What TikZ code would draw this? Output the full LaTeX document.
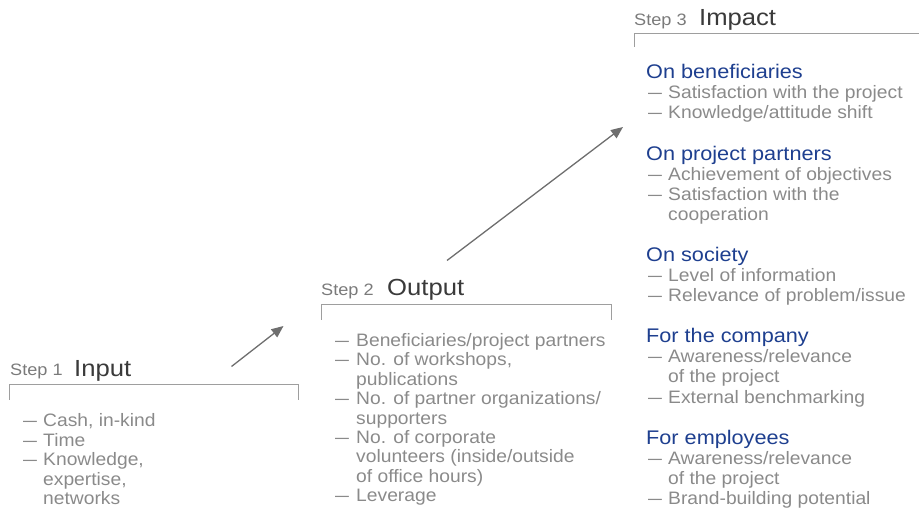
\documentclass[tikz,border=0pt]{standalone}
\usepackage{fontspec}
\usepackage{graphicx}
\setmainfont{Liberation Sans}[FakeStretch=1.1]
\newfontfamily\itemfont{Liberation Sans}[FakeStretch=1.07]
\usetikzlibrary{arrows.meta}
\definecolor{txtgrey}{HTML}{8A8A8A}
\definecolor{stepgrey}{HTML}{7A7A7A}
\definecolor{titlegrey}{HTML}{3A3A3A}
\definecolor{headblue}{HTML}{1E3F8F}
\definecolor{linegrey}{HTML}{9E9E9E}
\definecolor{arrowgrey}{HTML}{6E6E6E}
\newcommand{\itdash}{\scalebox{0.72}[1]{—}}
\tikzset{
  lbl/.style={inner sep=0pt, anchor=base west},
  itemtxt/.style={lbl, text=txtgrey, font=\itemfont\fontsize{18}{20}\selectfont},
  steplbl/.style={lbl, text=stepgrey, font=\fontsize{16.5}{18}\selectfont},
  steptitle/.style={lbl, text=titlegrey, font=\fontsize{23.3}{26}\selectfont},
  headtxt/.style={lbl, text=headblue, font=\fontsize{19.7}{22}\selectfont},
  bracket/.style={draw=linegrey, line width=1pt},
  flow/.style={draw=arrowgrey, line width=1.3pt, -{Triangle[length=12pt,width=10pt]}}
}
\begin{document}
\begin{tikzpicture}[x=1pt,y=-1pt]
\useasboundingbox (0,0) rectangle (919,510);

% ---------- Step 1 ----------
\node[steplbl] (s1) at (10,376) {Step 1};
\node[steptitle] (t1) at (74,376.5) {Input};
\coordinate (b1l) at (9.5,400);
\coordinate (b1r) at (298.5,400);
\draw[bracket] (b1l) -- ++(0,-15) -| (b1r);
\node[itemtxt] (d11) at (23,427) {\itdash};
\node[itemtxt] (i11) at (43,427) {Cash, in-kind};
\node[itemtxt] (d12) at (23,446.4) {\itdash};
\node[itemtxt] (i12) at (43,446.4) {Time};
\node[itemtxt] (d13) at (23,465.8) {\itdash};
\node[itemtxt] (i13) at (43,465.8) {Knowledge,};
\node[itemtxt] (i13b) at (43,485.2) {expertise,};
\node[itemtxt] (i13c) at (43,504.6) {networks};

% ---------- Step 2 ----------
\node[steplbl] (s2) at (321,295.5) {Step 2};
\node[steptitle] (t2) at (387,296) {Output};
\coordinate (b2l) at (321,320);
\coordinate (b2r) at (611.5,320);
\draw[bracket] (b2l) -- ++(0,-15) -| (b2r);
\node[itemtxt] (d21) at (335,346.5) {\itdash};
\node[itemtxt] (i21) at (356,346.5) {Beneficiaries/project partners};
\node[itemtxt] (d22) at (335,365.9) {\itdash};
\node[itemtxt] (i22) at (356,365.9) {No. of workshops,};
\node[itemtxt] (i22b) at (356,385.3) {publications};
\node[itemtxt] (d23) at (335,404.7) {\itdash};
\node[itemtxt] (i23) at (356,404.7) {No. of partner organizations/};
\node[itemtxt] (i23b) at (356,424.1) {supporters};
\node[itemtxt] (d24) at (335,443.5) {\itdash};
\node[itemtxt] (i24) at (356,443.5) {No. of corporate};
\node[itemtxt] (i24b) at (356,462.9) {volunteers (inside/outside};
\node[itemtxt] (i24c) at (356,482.3) {of office hours)};
\node[itemtxt] (d25) at (335,501.7) {\itdash};
\node[itemtxt] (i25) at (356,501.7) {Leverage};

% ---------- Step 3 ----------
\node[steplbl] (s3) at (634,25.5) {Step 3};
\node[steptitle] (t3) at (699,26) {Impact};
\coordinate (b3l) at (634.5,47);
\coordinate (b3r) at (919,33.5);
\draw[bracket] (b3l) |- (b3r);

\node[headtxt] (h1) at (646,78.5) {On beneficiaries};
\node[itemtxt] (d31) at (648,99) {\itdash};
\node[itemtxt] (i31) at (668,99) {Satisfaction with the project};
\node[itemtxt] (d32) at (648,119) {\itdash};
\node[itemtxt] (i32) at (668,119) {Knowledge/attitude shift};

\node[headtxt] (h2) at (646,161) {On project partners};
\node[itemtxt] (d33) at (648,181) {\itdash};
\node[itemtxt] (i33) at (668,181) {Achievement of objectives};
\node[itemtxt] (d34) at (648,201) {\itdash};
\node[itemtxt] (i34) at (668,201) {Satisfaction with the};
\node[itemtxt] (i34b) at (668,221) {cooperation};

\node[headtxt] (h3) at (646,262) {On society};
\node[itemtxt] (d35) at (648,282) {\itdash};
\node[itemtxt] (i35) at (668,282) {Level of information};
\node[itemtxt] (d36) at (648,302) {\itdash};
\node[itemtxt] (i36) at (668,302) {Relevance of problem/issue};

\node[headtxt] (h4) at (646,343) {For the company};
\node[itemtxt] (d37) at (648,363) {\itdash};
\node[itemtxt] (i37) at (668,363) {Awareness/relevance};
\node[itemtxt] (i37b) at (668,383) {of the project};
\node[itemtxt] (d38) at (648,403.5) {\itdash};
\node[itemtxt] (i38) at (668,403.5) {External benchmarking};

\node[headtxt] (h5) at (646,445) {For employees};
\node[itemtxt] (d39) at (648,465) {\itdash};
\node[itemtxt] (i39) at (668,465) {Awareness/relevance};
\node[itemtxt] (i39b) at (668,485) {of the project};
\node[itemtxt] (d40) at (648,505) {\itdash};
\node[itemtxt] (i40) at (668,505) {Brand-building potential};

% ---------- arrows ----------
\coordinate (a1s) at (231.5,366.5);
\coordinate (a1e) at (283.5,326);
\coordinate (a2s) at (447,260.5);
\coordinate (a2e) at (623,127);
\draw[flow] (a1s) -- (a1e);
\draw[flow] (a2s) -- (a2e);
\end{tikzpicture}
\end{document}
